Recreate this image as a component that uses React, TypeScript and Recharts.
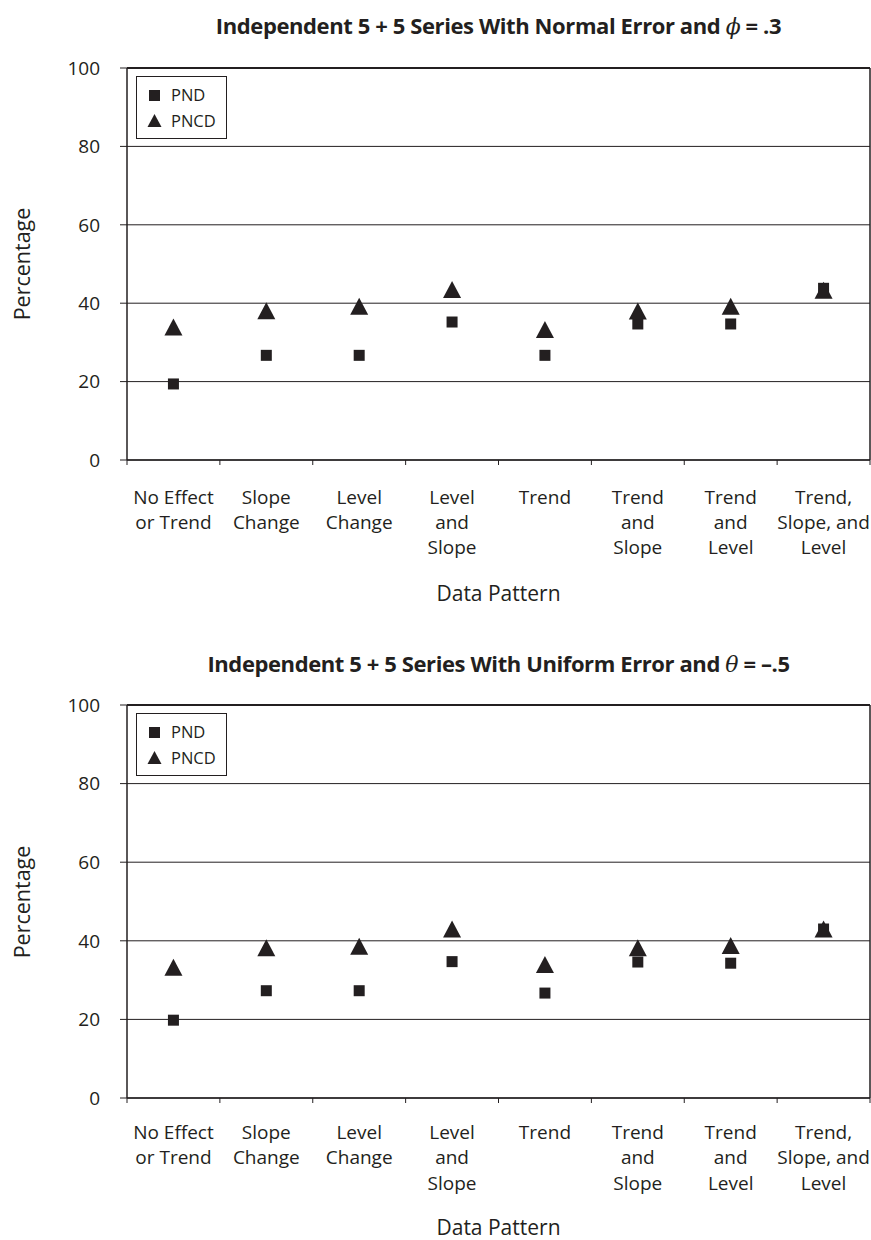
import React from "react";
import {
  CartesianGrid,
  ReferenceLine,
  Scatter,
  ScatterChart,
  XAxis,
  YAxis,
} from "recharts";

const INK = "#231f20";
const FONT = "'Open Sans', 'Noto Sans', sans-serif";

// Category labels, one entry per line of text under each slot
const categories = [
  ["No Effect", "or Trend"],
  ["Slope", "Change"],
  ["Level", "Change"],
  ["Level", "and", "Slope"],
  ["Trend"],
  ["Trend", "and", "Slope"],
  ["Trend", "and", "Level"],
  ["Trend,", "Slope, and", "Level"],
];

const yTicks = [0, 20, 40, 60, 80, 100];
const xTicks = [0, 1, 2, 3, 4, 5, 6, 7, 8];

// Normal error, phi = .3
const normalPnd = [19.4, 26.7, 26.7, 35.2, 26.7, 34.7, 34.7, 43.8];
const normalPncd = [33.9, 38.1, 39.2, 43.5, 33.3, 38.0, 39.2, 43.3];

// Uniform error, theta = -.5
const uniformPnd = [19.8, 27.3, 27.3, 34.7, 26.7, 34.6, 34.3, 43.0];
const uniformPncd = [33.3, 38.2, 38.6, 43.0, 34.0, 38.2, 38.8, 43.0];

const WIDTH = 871;
const AXIS_W = 127;
const PLOT_W = 743;
const STEP = PLOT_W / categories.length;

const toPoints = (values: number[]) => values.map((y, i) => ({ x: i + 0.5, y }));

const Square = (props: any) => {
  const { cx, cy } = props;
  if (cx == null || cy == null) return null;
  return <rect x={cx - 5.5} y={cy - 5.5} width={11} height={11} fill={INK} />;
};

const Triangle = (props: any) => {
  const { cx, cy } = props;
  if (cx == null || cy == null) return null;
  const w = 18;
  const h = 17;
  return (
    <polygon
      points={`${cx},${cy - h / 2} ${cx + w / 2},${cy + h / 2} ${cx - w / 2},${cy + h / 2}`}
      fill={INK}
    />
  );
};

const makeXTick = (offsets: number[]) => (props: any) => {
  const { x, y, payload } = props;
  const lines = categories[payload.value];
  if (!lines) return null;
  return (
    <g>
      {lines.map((line, i) => (
        <text
          key={i}
          x={x + STEP / 2}
          y={y + offsets[i]}
          textAnchor="middle"
          fontSize={19}
          fontFamily={FONT}
          fill={INK}
        >
          {line}
        </text>
      ))}
    </g>
  );
};

const LegendBox: React.FC<{ top: number }> = ({ top }) => (
  <svg
    width={92}
    height={64}
    style={{ position: "absolute", left: 136, top, zIndex: 2 }}
  >
    <rect x={0.5} y={0.5} width={90} height={62} fill="#fff" stroke={INK} strokeWidth={1} />
    <rect x={13} y={14} width={11} height={11} fill={INK} />
    <polygon points="18.5,38 25.5,51 11.5,51" fill={INK} />
    <text x={35} y={25} fontSize={16.5} fontFamily={FONT} fill={INK}>PND</text>
    <text x={35} y={51} fontSize={16.5} fontFamily={FONT} fill={INK}>PNCD</text>
  </svg>
);

interface PanelProps {
  title: React.ReactNode;
  pnd: number[];
  pncd: number[];
  height: number;
  plotTop: number;
  plotBottom: number;
  labelOffsets: number[];
  xLabelY: number;
  titleY: number;
}

const Panel: React.FC<PanelProps> = ({
  title,
  pnd,
  pncd,
  height,
  plotTop,
  plotBottom,
  labelOffsets,
  xLabelY,
  titleY,
}) => {
  const xAxisH = 40;
  const yLabelCenter = (plotTop + plotBottom) / 2;
  return (
    <div style={{ position: "relative", width: WIDTH, height }}>
      <div
        style={{
          position: "absolute",
          left: AXIS_W - 100,
          width: PLOT_W + 200,
          top: titleY - 15,
          textAlign: "center",
          fontFamily: FONT,
          fontWeight: 700,
          fontSize: 22,
          lineHeight: "30px",
          color: INK,
          whiteSpace: "nowrap",
          letterSpacing: -0.4,
        }}
      >
        {title}
      </div>
      <div
        style={{
          position: "absolute",
          left: 22 - 70,
          top: yLabelCenter - 15,
          width: 140,
          lineHeight: "30px",
          textAlign: "center",
          transform: "rotate(-90deg)",
          fontFamily: FONT,
          fontSize: 21.5,
          color: INK,
        }}
      >
        Percentage
      </div>
      <div
        style={{
          position: "absolute",
          left: AXIS_W,
          width: PLOT_W,
          top: xLabelY - 15,
          lineHeight: "30px",
          textAlign: "center",
          fontFamily: FONT,
          fontSize: 21,
          color: INK,
        }}
      >
        Data Pattern
      </div>
      <LegendBox top={plotTop + 8} />
      <ScatterChart
        width={WIDTH}
        height={height}
        margin={{ top: plotTop, right: WIDTH - AXIS_W - PLOT_W, bottom: height - plotBottom - xAxisH, left: 0 }}
        style={{ position: "absolute", left: 0, top: 0 }}
      >
        <CartesianGrid horizontal vertical={false} stroke={INK} strokeWidth={1} />
        <XAxis
          type="number"
          dataKey="x"
          domain={[0, 8]}
          ticks={xTicks}
          interval={0}
          height={xAxisH}
          tickSize={5}
          tickMargin={0}
          axisLine={{ stroke: INK, strokeWidth: 1.5 }}
          tickLine={{ stroke: INK }}
          tick={makeXTick(labelOffsets)}
        />
        <YAxis
          type="number"
          dataKey="y"
          domain={[0, 100]}
          ticks={yTicks}
          interval={0}
          width={AXIS_W}
          tickSize={7}
          tickMargin={20}
          axisLine={{ stroke: INK, strokeWidth: 1.5 }}
          tickLine={{ stroke: INK }}
          tick={{ fill: INK, fontSize: 19, fontFamily: FONT }}
        />
        <ReferenceLine y={100} stroke={INK} strokeWidth={2} />
        <ReferenceLine x={8} stroke={INK} strokeWidth={1.5} />
        <Scatter name="PND" data={toPoints(pnd)} shape={Square} isAnimationActive={false} />
        <Scatter name="PNCD" data={toPoints(pncd)} shape={Triangle} isAnimationActive={false} />
      </ScatterChart>
    </div>
  );
};

export default function App() {
  return (
    <div style={{ position: "absolute", left: 0, top: 0, width: WIDTH, height: 1240, background: "#fff", overflow: "hidden" }}>
      <Panel
        title={
          <>
            Independent 5 + 5 Series With Normal Error and <i style={{ fontFamily: "'DejaVu Serif', serif", fontWeight: 400 }}>ϕ</i> = .3
          </>
        }
        pnd={normalPnd}
        pncd={normalPncd}
        height={630}
        plotTop={68}
        plotBottom={460}
        labelOffsets={[39, 64, 89]}
        xLabelY={593}
        titleY={25}
      />
      <Panel
        title={
          <>
            Independent 5 + 5 Series With Uniform Error and <i style={{ fontFamily: "'DejaVu Serif', serif", fontWeight: 400 }}>θ</i> = –.5
          </>
        }
        pnd={uniformPnd}
        pncd={uniformPncd}
        height={610}
        plotTop={75}
        plotBottom={468}
        labelOffsets={[36, 61, 87]}
        xLabelY={597}
        titleY={33}
      />
    </div>
  );
}
